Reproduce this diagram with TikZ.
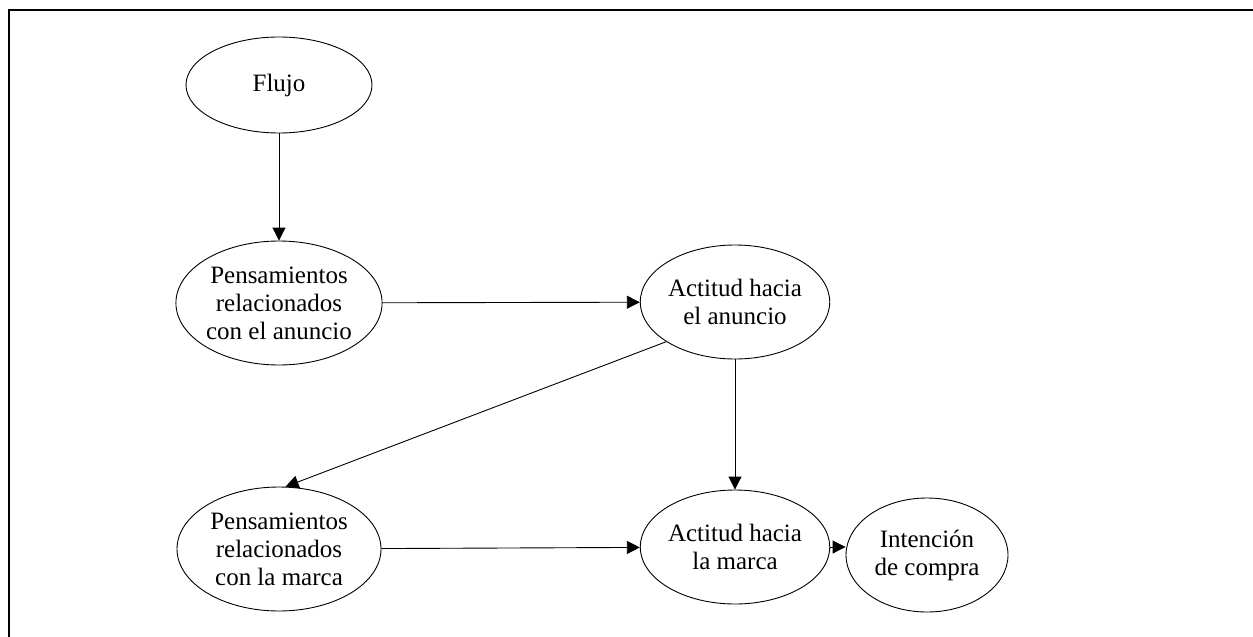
\documentclass[tikz,border=0pt]{standalone}
\usepackage{fontspec}
\setmainfont{Liberation Serif}
\usetikzlibrary{shapes.geometric,arrows.meta}
\tikzset{
  estado/.style={draw,ellipse,line width=0.9pt,inner sep=0pt,align=center,
    font=\fontsize{25}{28}\selectfont},
  flecha/.style={line width=0.9pt,-{Triangle[length=13pt,width=13pt]}}
}
\begin{document}
\begin{tikzpicture}[x=1pt,y=-1pt]
            \useasboundingbox (0,0) rectangle (1253,637);
            \draw [line width=1.3pt](1253,10) -- (9,10) -- (9,637);% marco
            \node [estado,minimum width=186pt,minimum height=96pt] (flujo) at (279,85) {Flujo};
            \node [estado,minimum width=204pt,minimum height=124pt] (panuncio) at (279,303) {Pensamientos\\relacionados\\con el anuncio};
            \node [estado,minimum width=186pt,minimum height=114pt] (aanuncio) at (735,302) {Actitud hacia\\el anuncio};
            \node [estado,minimum width=204pt,minimum height=124pt] (pmarca) at (279,549) {Pensamientos\\relacionados\\con la marca};
            \node [estado,minimum width=186pt,minimum height=114pt] (amarca) at (735,547) {Actitud hacia\\la marca};
            \node [estado,minimum width=162pt,minimum height=114pt] (intencion) at (927,555) {Intención\\de compra};
            \draw [flecha](flujo) -- (panuncio);
            \draw [flecha](panuncio) -- (aanuncio);
            \draw [flecha](aanuncio.210) -- (pmarca.84);
            \draw [flecha](aanuncio) -- (amarca);
            \draw [flecha](pmarca) -- (amarca);
            \draw [flecha](amarca.east) -- (amarca.east -| intencion.west);
        \end{tikzpicture}
\end{document}
